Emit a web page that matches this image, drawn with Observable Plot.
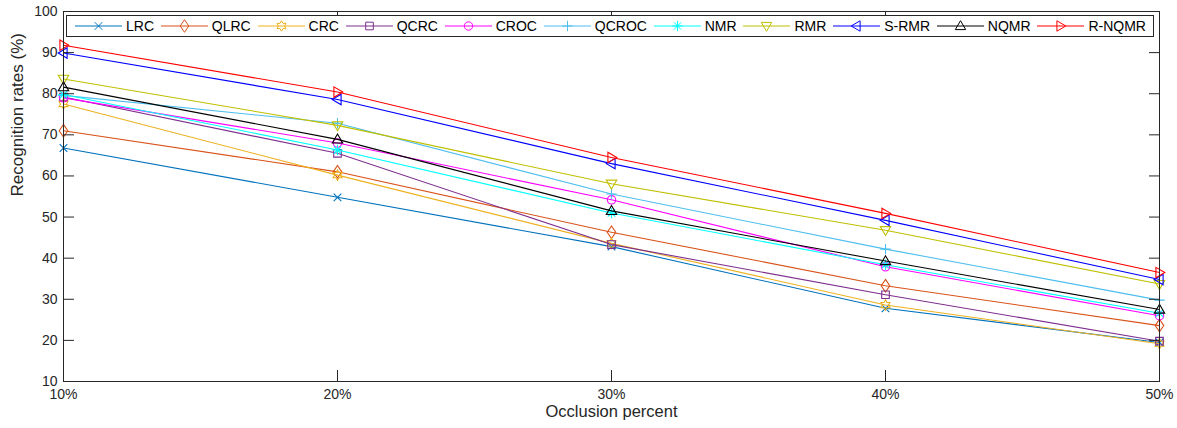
<!DOCTYPE html>
<html><head><meta charset="utf-8">
<script src="https://cdn.jsdelivr.net/npm/d3@7"></script>
<script src="https://cdn.jsdelivr.net/npm/@observablehq/plot@0.6"></script>
<style>
body{margin:0;background:#fff;font-family:"Liberation Sans",Arial,Helvetica,sans-serif;}
#wrap{position:relative;width:1177px;height:428px;}
#legend{position:absolute;left:66px;top:15px;width:1088px;height:22px;border:1px solid #262626;background:#fff;display:flex;align-items:center;justify-content:space-between;padding:0 7px 0 8px;box-sizing:border-box;font-size:14px;color:#000;}
.item{display:flex;align-items:center;white-space:nowrap;}
.item svg{margin-right:4px;display:block;}
</style></head><body><div id="wrap"><div id="legend"></div></div>
<script>
const categories = ["10%", "20%", "30%", "40%", "50%"];
const yTicks = [10, 20, 30, 40, 50, 60, 70, 80, 90, 100];

const LRC    = [66.8, 54.8, 42.8, 27.8, 19.5];
const QLRC   = [71.0, 61.0, 46.3, 33.3, 23.6];
const CRC    = [77.5, 60.2, 43.6, 28.6, 19.2];
const QCRC   = [79.2, 65.5, 43.3, 31.1, 19.8];
const CROC   = [79.0, 68.0, 54.2, 37.9, 26.0];
const QCROC  = [79.6, 72.8, 55.6, 42.2, 29.8];
const NMR    = [79.8, 66.3, 51.0, 38.4, 26.6];
const RMR    = [83.6, 72.3, 58.1, 46.8, 33.7];
const SRMR   = [89.9, 78.6, 63.0, 49.2, 34.8];
const NQMR   = [81.6, 68.9, 51.5, 39.3, 27.5];
const RNQMR  = [91.8, 80.4, 64.5, 50.9, 36.5];

const seriesNames  = ["LRC", "QLRC", "CRC", "QCRC", "CROC", "QCROC", "NMR", "RMR", "S-RMR", "NQMR", "R-NQMR"];
const seriesValues = [LRC, QLRC, CRC, QCRC, CROC, QCROC, NMR, RMR, SRMR, NQMR, RNQMR];
const seriesColors = ["#0072BD", "#D95319", "#EDB120", "#7E2F8E", "#FF00FF", "#4DBEEE", "#00FFFF", "#BFBF00", "#0000FF", "#000000", "#FF0000"];
const seriesMarkers = ["times", "diamond", "hexagram", "square", "circle", "plus", "asterisk", "triDown", "triLeft", "triUp", "triRight"];

// marker shapes (drawn into any path context)
const shapes = {
  times(c){const a=3.8;c.moveTo(-a,-a);c.lineTo(a,a);c.moveTo(-a,a);c.lineTo(a,-a);},
  diamond(c){c.moveTo(0,-6.3);c.lineTo(4.3,0);c.lineTo(0,6.3);c.lineTo(-4.3,0);c.closePath();},
  hexagram(c){const R=5.2,r=R/Math.sqrt(3);for(let i=0;i<12;i++){const ang=-Math.PI/2+i*Math.PI/6;const rr=i%2?r:R;const x=rr*Math.cos(ang),y=rr*Math.sin(ang);i?c.lineTo(x,y):c.moveTo(x,y);}c.closePath();},
  square(c){const a=3.8;c.moveTo(-a,-a);c.lineTo(a,-a);c.lineTo(a,a);c.lineTo(-a,a);c.closePath();},
  circle(c){const r=4.2;c.moveTo(r,0);c.arc(0,0,r,0,2*Math.PI);c.closePath();},
  plus(c){const a=5.2;c.moveTo(-a,0);c.lineTo(a,0);c.moveTo(0,-a);c.lineTo(0,a);},
  asterisk(c){const a=5.2,b=3.7;c.moveTo(-a,0);c.lineTo(a,0);c.moveTo(0,-a);c.lineTo(0,a);c.moveTo(-b,-b);c.lineTo(b,b);c.moveTo(-b,b);c.lineTo(b,-b);},
  triUp(c){c.moveTo(0,-5.3);c.lineTo(5.2,3.6);c.lineTo(-5.2,3.6);c.closePath();},
  triDown(c){c.moveTo(0,5.3);c.lineTo(5.2,-3.6);c.lineTo(-5.2,-3.6);c.closePath();},
  triLeft(c){c.moveTo(-5.3,0);c.lineTo(3.6,-5.2);c.lineTo(3.6,5.2);c.closePath();},
  triRight(c){c.moveTo(5.3,0);c.lineTo(-3.6,-5.2);c.lineTo(-3.6,5.2);c.closePath();}
};
const symbolOf = name => ({draw(context){shapes[name](context);}});

const marks = [];
seriesNames.forEach((name, i) => {
  const rows = categories.map((cat, j) => ({cat, value: seriesValues[i][j], series: name}));
  marks.push(Plot.line(rows, {x: "cat", y: "value", stroke: seriesColors[i], strokeWidth: 1.1}));
  marks.push(Plot.dot(rows, {x: "cat", y: "value", stroke: seriesColors[i], fill: "none", strokeWidth: 1.1, r: 5, symbol: symbolOf(seriesMarkers[i])}));
});

const chart = Plot.plot({
  width: 1177,
  height: 428,
  marginLeft: 63,
  marginRight: 18,
  marginTop: 11,
  marginBottom: 47,
  style: {fontFamily: '"Liberation Sans", Arial, Helvetica, sans-serif', fontSize: "14px", color: "#262626", background: "#fff"},
  x: {type: "point", domain: categories, padding: 0},
  y: {domain: [10, 100]},
  marks: [
    ...marks,
    Plot.frame({stroke: "#262626", strokeWidth: 1}),
    // tick labels
    Plot.axisX(categories, {anchor: "bottom", tickSize: 0, tickPadding: 8, label: null, fontSize: 14}),
    Plot.axisY(yTicks, {anchor: "left", tickSize: 0, tickPadding: 6, label: null, fontSize: 14}),
    // inward tick marks on all four sides
    Plot.axisX(categories, {anchor: "bottom", tickSize: 11, insetBottom: 11, tickFormat: () => "", label: null}),
    Plot.axisX(categories, {anchor: "top", tickSize: 11, insetTop: 11, tickFormat: () => "", label: null}),
    Plot.axisY(yTicks, {anchor: "left", tickSize: 11, insetLeft: 11, tickFormat: () => "", label: null}),
    Plot.axisY(yTicks, {anchor: "right", tickSize: 11, insetRight: 11, tickFormat: () => "", label: null}),
    Plot.text(["Occlusion percent"], {frameAnchor: "bottom", dy: 35, fontSize: 16.5, fill: "#262626"}),
    Plot.text(["Recognition rates (%)"], {frameAnchor: "left", dx: -46, rotate: -90, fontSize: 17, fill: "#262626"})
  ]
});
document.getElementById("wrap").insertBefore(chart, document.getElementById("legend"));

// legend
const legend = document.getElementById("legend");
seriesNames.forEach((name, i) => {
  const item = document.createElement("div");
  item.className = "item";
  const p = d3.path();
  shapes[seriesMarkers[i]](p);
  item.innerHTML = `<svg width="47" height="16" viewBox="0 0 47 16"><line x1="0" x2="47" y1="8" y2="8" stroke="${seriesColors[i]}" stroke-width="1"/><path transform="translate(23.5,8)" d="${p.toString()}" fill="none" stroke="${seriesColors[i]}" stroke-width="1"/></svg><span>${name}</span>`;
  legend.appendChild(item);
});
</script>
</body></html>
